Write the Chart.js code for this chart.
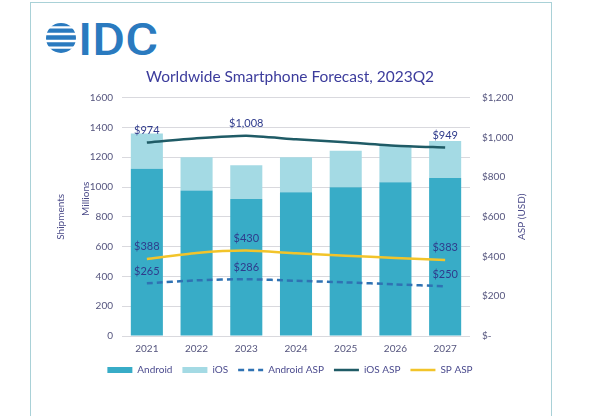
<!DOCTYPE html>
<html>
<head>
<meta charset="utf-8">
<script src="https://cdn.jsdelivr.net/npm/chart.js@4.4.0/dist/chart.umd.min.js"></script>
<style>
  html, body { margin: 0; padding: 0; background: #ffffff; }
  body { width: 600px; height: 416px; position: relative; overflow: hidden; }
  #frame { position: absolute; left: 30px; top: 2px; width: 522px; height: 520px; border: 1.5px solid #a9d1d7; box-sizing: border-box; }
  #logo { position: absolute; left: 45px; top: 16px; }
  #wrap { position: absolute; left: 0; top: 0; width: 600px; height: 416px; }
</style>
</head>
<body>
<div id="frame"></div>
<svg id="logo" width="120" height="46" viewBox="0 0 120 46">
  <defs>
    <clipPath id="globe"><circle cx="16" cy="22" r="15"/></clipPath>
  </defs>
  <g clip-path="url(#globe)" fill="#2a7abf">
    <rect x="0" y="6" width="34" height="4.2" rx="2"/>
    <rect x="0" y="12.6" width="34" height="4.2" rx="2"/>
    <rect x="0" y="19.2" width="34" height="4.6" rx="2"/>
    <rect x="0" y="26.2" width="34" height="4.2" rx="2"/>
    <rect x="0" y="32.8" width="34" height="4.2" rx="2"/>
  </g>
  <text x="33" y="38.5" font-family="Roboto, 'Liberation Sans', sans-serif" font-size="45" font-weight="500" fill="#2a7abf" textLength="80" lengthAdjust="spacingAndGlyphs">IDC</text>
</svg>
<div id="wrap"><canvas id="c" width="600" height="416"></canvas></div>
<script>
const categories = ['2021', '2022', '2023', '2024', '2025', '2026', '2027'];
const androidShipments = [1122, 976, 920, 965, 998, 1032, 1061];
const iosShipments = [237, 224, 226, 235, 245, 246, 247];
const androidASP = [265, 280, 286, 278, 270, 260, 250];
const iosASP = [974, 995, 1008, 990, 975, 958, 949];
const spASP = [388, 418, 430, 416, 404, 393, 383];
const labelledPoints = [0, 2, 6];
const shipmentTicks = [0, 200, 400, 600, 800, 1000, 1200, 1400, 1600];
const aspTicks = [0, 200, 400, 600, 800, 1000, 1200];

const FONT = 'Lato, "Open Sans", sans-serif';
const TICK_COLOR = '#55557e';
const LABEL_COLOR = '#2f3b8c';

const fmtMoney = v => v === 0 ? '$-' : '$' + v.toLocaleString('en-US');

const axisTitles = {
  id: 'axisTitles',
  afterDraw(chart) {
    const ctx = chart.ctx;
    const a = chart.chartArea;
    const mid = (a.top + a.bottom) / 2;
    ctx.save();
    ctx.font = '10px ' + FONT;
    ctx.fillStyle = '#4a4a88';
    ctx.textAlign = 'center';
    ctx.textBaseline = 'middle';
    const items = [
      ['Shipments', 61, mid],
      ['Millions', 85.5, mid - 18],
      ['ASP (USD)', 522, mid]
    ];
    for (const [t, x, y] of items) {
      ctx.save();
      ctx.translate(x, y);
      ctx.rotate(-Math.PI / 2);
      ctx.fillText(t, 0, 0);
      ctx.restore();
    }
    ctx.restore();
  }
};

const valueLabels = {
  id: 'valueLabels',
  afterDatasetsDraw(chart) {
    const ctx = chart.ctx;
    ctx.save();
    ctx.font = '11px ' + FONT;
    ctx.fillStyle = LABEL_COLOR;
    ctx.textAlign = 'center';
    ctx.textBaseline = 'middle';
    [2, 3, 4].forEach(di => {
      const meta = chart.getDatasetMeta(di);
      const data = chart.data.datasets[di].data;
      labelledPoints.forEach(i => {
        const p = meta.data[i];
        ctx.fillText(fmtMoney(data[i]), p.x, p.y - 12);
      });
    });
    ctx.restore();
  }
};

new Chart(document.getElementById('c'), {
  type: 'bar',
  data: {
    labels: categories,
    datasets: [
      { label: 'Android', data: androidShipments, backgroundColor: '#38acc7', borderWidth: 0, yAxisID: 'y', order: 2, pointStyle: 'rect', barPercentage: 0.645, categoryPercentage: 1 },
      { label: 'iOS', data: iosShipments, backgroundColor: '#a4dae4', borderWidth: 0, yAxisID: 'y', order: 2, pointStyle: 'rect', barPercentage: 0.645, categoryPercentage: 1 },
      { type: 'line', label: 'Android ASP', data: androidASP, borderColor: '#2f72b3', backgroundColor: '#2f72b3', borderWidth: 2.5, borderDash: [6, 4], pointRadius: 0, pointBorderWidth: 2.5, pointStyle: 'line', tension: 0.2, yAxisID: 'y1', order: 1 },
      { type: 'line', label: 'iOS ASP', data: iosASP, borderColor: '#1f5b66', backgroundColor: '#1f5b66', borderWidth: 2.5, pointRadius: 0, pointBorderWidth: 2.5, pointStyle: 'line', tension: 0.2, yAxisID: 'y1', order: 1 },
      { type: 'line', label: 'SP ASP', data: spASP, borderColor: '#f2c42a', backgroundColor: '#f2c42a', borderWidth: 2.5, pointRadius: 0, pointBorderWidth: 2.5, pointStyle: 'line', tension: 0.2, yAxisID: 'y1', order: 1 }
    ]
  },
  options: {
    responsive: false,
    animation: false,
    events: [],
    layout: { padding: { left: 40, right: 60, top: 68, bottom: 31 } },
    plugins: {
      title: {
        display: true,
        text: 'Worldwide Smartphone Forecast, 2023Q2',
        color: '#3c3c9c',
        font: { family: FONT, size: 15.5, weight: 'normal' },
        padding: { top: 0, bottom: 11 }
      },
      legend: {
        position: 'bottom',
        labels: {
          usePointStyle: true,
          pointStyleWidth: 25,
          boxHeight: 6,
          color: '#4b4b8e',
          font: { family: FONT, size: 10 },
          padding: 10,
          sort: (a, b) => a.datasetIndex - b.datasetIndex,
          generateLabels: chart => {
            const items = Chart.defaults.plugins.legend.labels.generateLabels(chart);
            items.forEach(it => {
              const ds = chart.data.datasets[it.datasetIndex];
              if (ds.type === 'line') {
                it.lineWidth = ds.borderWidth;
                it.strokeStyle = ds.borderColor;
                it.lineDash = ds.borderDash || [];
              }
            });
            return items;
          }
        }
      },
      tooltip: { enabled: false }
    },
    scales: {
      x: {
        stacked: true,
        afterFit: s => { s.height = 19; },
        grid: { display: false, drawTicks: false },
        border: { display: false },
        ticks: { color: TICK_COLOR, font: { family: FONT, size: 10 }, padding: 7 }
      },
      y: {
        stacked: true,
        position: 'left',
        min: 0,
        max: 1600,
        afterBuildTicks: s => { s.ticks = shipmentTicks.map(v => ({ value: v })); },
        afterFit: s => { s.width = 82; },
        grid: { color: '#d9d9de', lineWidth: 1, drawTicks: false },
        border: { display: false },
        ticks: { color: TICK_COLOR, font: { family: FONT, size: 10 }, padding: 9, callback: v => String(v) }
      },
      y1: {
        position: 'right',
        min: 0,
        max: 1200,
        afterBuildTicks: s => { s.ticks = aspTicks.map(v => ({ value: v })); },
        afterFit: s => { s.width = 70; },
        grid: { display: false, drawTicks: false },
        border: { display: false },
        ticks: { color: TICK_COLOR, font: { family: FONT, size: 10 }, padding: 12, callback: v => fmtMoney(v) }
      }
    }
  },
  plugins: [axisTitles, valueLabels]
});
</script>
</body>
</html>
